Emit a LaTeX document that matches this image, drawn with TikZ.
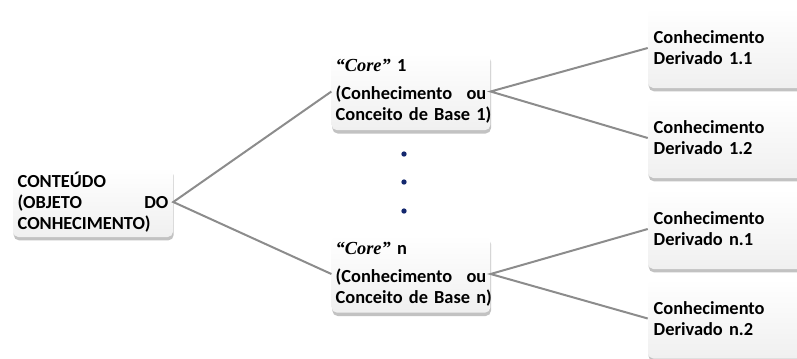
\documentclass[tikz,border=0pt]{standalone}
\usepackage{fontspec}
\setmainfont{Carlito}
\newfontfamily\coreserif{Liberation Serif}
\usetikzlibrary{shadows}
\definecolor{linegray}{RGB}{140,140,140}
\definecolor{dotblue}{RGB}{20,40,110}
\tikzset{
  x=0.75pt, y=-0.75pt,
  box/.style={draw=none, rounded corners=4pt, top color=white, bottom color=gray!12,
    drop shadow={shadow xshift=0.5pt, shadow yshift=-2.5pt, opacity=0.4, fill=black!60},
    font=\fontsize{13.8}{15.8}\selectfont\bfseries, align=left, inner xsep=3pt, inner ysep=0pt},
  rootbox/.style={box, text width=113pt, minimum width=120pt, minimum height=52.5pt},
  corebox/.style={box, text width=113pt, minimum width=118.5pt, minimum height=58pt},
  derbox/.style={box, text width=113pt, minimum width=121.5pt, minimum height=60pt},
  conn/.style={draw=linegray, line width=1.5pt},
  dotstyle/.style={circle, fill=dotblue, inner sep=0pt, minimum size=4pt},
}
\newcommand{\corelabel}[1]{{\coreserif\itshape\bfseries “Core”} #1}
\begin{document}
\begin{tikzpicture}
\clip (0,0) rectangle (797,358);
\useasboundingbox (0,0) rectangle (797,358);
\node[rootbox] (root) at (93,202) {CONTEÚDO\\(OBJETO\hfill DO\\CONHECIMENTO)};
\node[corebox] (core1) at (411,91.5) {\corelabel{1}\\[5pt](Conhecimento\hfill ou\\\mbox{Conceito de Base 1)}};
\node[corebox] (coren) at (411,274) {\corelabel{n}\\[5pt](Conhecimento\hfill ou\\\mbox{Conceito de Base n)}};
\node[derbox] (d11) at (729,48) {Conhecimento\\Derivado 1.1};
\node[derbox] (d12) at (729,138) {Conhecimento\\Derivado 1.2};
\node[derbox] (dn1) at (729,229) {Conhecimento\\Derivado n.1};
\node[derbox] (dn2) at (729,318.5) {Conhecimento\\Derivado n.2};
\node[dotstyle] (dot1) at (404,154) {};
\node[dotstyle] (dot2) at (404,182) {};
\node[dotstyle] (dot3) at (404,211) {};
\draw[conn] (core1.west) -- (root.east) -- (coren.west);
\draw[conn] (d11.west) -- (core1.east) -- (d12.west);
\draw[conn] (dn1.west) -- (coren.east) -- (dn2.west);
\end{tikzpicture}
\end{document}
